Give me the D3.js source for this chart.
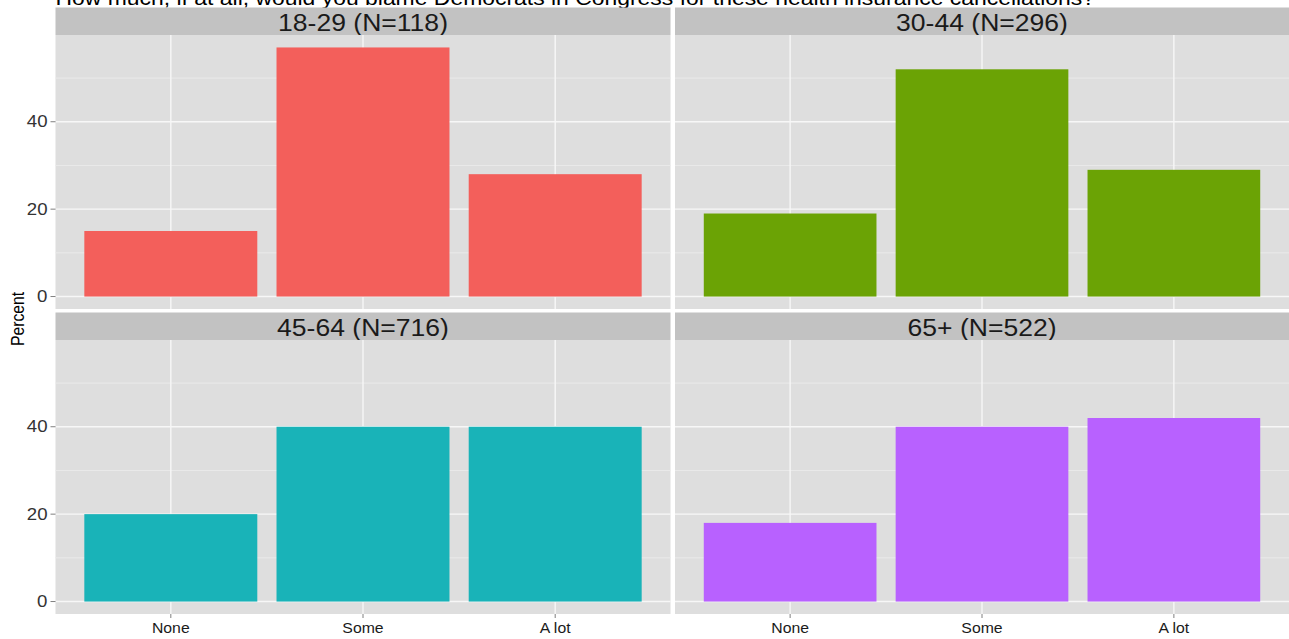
<!DOCTYPE html>
<html>
<head>
<meta charset="utf-8">
<script src="https://cdn.jsdelivr.net/npm/d3@7"></script>
<style>
  html, body { margin: 0; padding: 0; background: #ffffff; }
  svg { display: block; font-family: "Liberation Sans", Arial, Helvetica, sans-serif; }
</style>
</head>
<body>
<svg id="chart" width="1289" height="639"></svg>
<script>
// ---- data ----
const title = "How much, if at all, would you blame Democrats in Congress for these health insurance cancellations?";
const categories = ["None", "Some", "A lot"];
const facets = ["18-29 (N=118)", "30-44 (N=296)", "45-64 (N=716)", "65+ (N=522)"];
const values1829 = [15, 57, 28];
const values3044 = [19, 52, 29];
const values4564 = [20, 40, 40];
const values65 = [18, 40, 42];
const facetColors = ["#F35F5B", "#6BA305", "#19B3B8", "#B861FF"];
const yTicks = [0, 20, 40];
const yMinorTicks = [10, 30, 50];
const yLabel = "Percent";

const seriesValues = [values1829, values3044, values4564, values65];

// ---- layout ----
const svg = d3.select("#chart");
const colX = [[55.5, 670.5], [675, 1289]];
const rowY = [{strip: 7.5, top: 35, bottom: 309}, {strip: 312.5, top: 340, bottom: 614}];
const stretch = 1.13;

const panelBg = "#DEDEDE", stripBg = "#C2C2C2";

const allVals = seriesValues.flat();
const yMax = d3.max(allVals), yMin = 0;
const pad = (yMax - yMin) * 0.05;

function stretchedText(g, x, y, txt, size, anchor, color, baseline) {
  return g.append("text")
    .attr("transform", `translate(${x},${y}) scale(${stretch},1)`)
    .attr("text-anchor", anchor)
    .attr("dominant-baseline", baseline || "alphabetic")
    .attr("font-size", size)
    .attr("fill", color)
    .text(txt);
}

// title
stretchedText(svg, 55.5, 5, title, 20.3, "start", "#000000");

facets.forEach((name, i) => {
  const r = Math.floor(i / 2), c = i % 2;
  const [x0, x1] = colX[c];
  const {strip, top, bottom} = rowY[r];
  const g = svg.append("g");

  const x = d3.scaleBand().domain(categories).range([x0, x1]).paddingInner(0.1).paddingOuter(0.15);
  const y = d3.scaleLinear().domain([yMin - pad, yMax + pad]).range([bottom, top]);

  // strip
  g.append("rect").attr("x", x0).attr("y", strip).attr("width", x1 - x0).attr("height", top - strip).attr("fill", stripBg);
  stretchedText(g, (x0 + x1) / 2, (strip + top) / 2 + 1, name, 23.5, "middle", "#1A1A1A", "central");

  // panel
  g.append("rect").attr("x", x0).attr("y", top).attr("width", x1 - x0).attr("height", bottom - top).attr("fill", panelBg);

  // minor grid
  g.selectAll(".minor").data(yMinorTicks).enter().append("line")
    .attr("x1", x0).attr("x2", x1).attr("y1", d => y(d)).attr("y2", d => y(d))
    .attr("stroke", "#EAEAEA").attr("stroke-width", 1);
  // major grid
  g.selectAll(".majory").data(yTicks).enter().append("line")
    .attr("x1", x0).attr("x2", x1).attr("y1", d => y(d)).attr("y2", d => y(d))
    .attr("stroke", "#F7F7F7").attr("stroke-width", 1.4);
  g.selectAll(".majorx").data(categories).enter().append("line")
    .attr("x1", d => x(d) + x.bandwidth() / 2).attr("x2", d => x(d) + x.bandwidth() / 2)
    .attr("y1", top).attr("y2", bottom)
    .attr("stroke", "#F7F7F7").attr("stroke-width", 1.4);

  // bars
  g.selectAll(".bar").data(categories.map((k, j) => ({k, v: seriesValues[i][j]}))).enter().append("rect")
    .attr("x", d => x(d.k)).attr("width", x.bandwidth())
    .attr("y", d => y(d.v)).attr("height", d => y(0) - y(d.v))
    .attr("fill", facetColors[i]);

  // y axis (left column)
  if (c === 0) {
    yTicks.forEach(t => {
      g.append("line").attr("x1", x0 - 5).attr("x2", x0).attr("y1", y(t)).attr("y2", y(t))
        .attr("stroke", "#7F7F7F").attr("stroke-width", 1);
      stretchedText(g, x0 - 8, y(t), String(t), 16.5, "end", "#333333", "central");
    });
  }
  // x axis (bottom row)
  if (r === 1) {
    categories.forEach(k => {
      const cx = x(k) + x.bandwidth() / 2;
      g.append("line").attr("x1", cx).attr("x2", cx).attr("y1", bottom).attr("y2", bottom + 4)
        .attr("stroke", "#7F7F7F").attr("stroke-width", 1);
      stretchedText(g, cx, 628, k, 14, "middle", "#1A1A1A", "central");
    });
  }
});

// y label
svg.append("text")
  .attr("transform", `translate(24,319) rotate(-90) scale(1,${stretch})`)
  .attr("text-anchor", "middle")
  .attr("font-size", 15.7)
  .attr("fill", "#000000")
  .text(yLabel);
</script>
</body>
</html>
